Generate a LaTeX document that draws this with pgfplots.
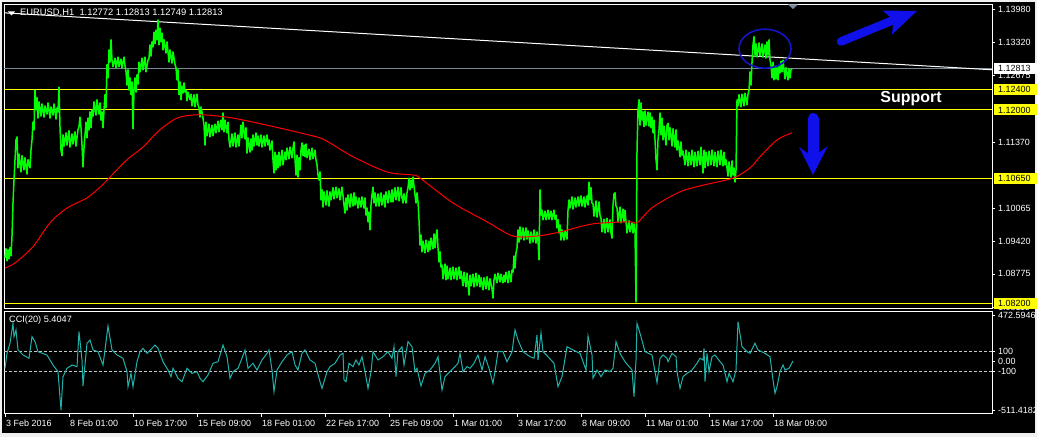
\documentclass[border=0pt]{standalone}
\usepackage{pgfplots}
\pgfplotsset{compat=1.18}
\usepackage{fontspec}
\setmainfont{Liberation Sans}
\definecolor{pricegreen}{RGB}{0,255,0}
\definecolor{ccicol}{RGB}{32,178,170}
\definecolor{slate}{RGB}{119,136,153}
\definecolor{mtyellow}{RGB}{255,255,0}
\definecolor{framegray}{RGB}{240,240,240}
\definecolor{arrowblue}{RGB}{16,16,235}
\definecolor{ellblue}{RGB}{20,20,200}
\definecolor{silverdash}{RGB}{200,200,200}
\newcommand{\tfont}{\fontsize{9}{10}\selectfont}
\begin{document}
\begin{tikzpicture}[x=1bp,y=1bp]
\fill[framegray] (0,0) rectangle (1037,437);
\fill[black] (2,4) rectangle (1035,435);
\path[use as bounding box] (0,0) rectangle (1037,437);
% ---------------- main price panel ----------------
\begin{axis}[
  at={(4bp,128bp)}, anchor=south west, scale only axis,
  width=988bp, height=304.7bp,
  xmin=4, xmax=992, ymin=1.08085, ymax=1.14078,
  axis line style={white, line width=1bp},
  xtick=\empty, scaled ticks=false,
  ytick={1.08115,1.08775,1.0942,1.10065,1.1137,1.12675,1.1332,1.1398},
  yticklabels={1.08115,1.08775,1.09420,1.10065,1.11370,1.12675,1.13320,1.13980},
  ytick pos=right, yticklabel pos=right,
  tick align=outside, major tick length=3bp,
  tick style={white, line width=0.8bp},
  yticklabel style={font=\tfont, text=white, anchor=west, inner sep=0pt, xshift=3bp},
]
\addplot[mtyellow, line width=1bp] coordinates {(4,1.124) (992,1.124)};
\addplot[mtyellow, line width=1bp] coordinates {(4,1.12) (992,1.12)};
\addplot[mtyellow, line width=1bp] coordinates {(4,1.1065) (992,1.1065)};
\addplot[mtyellow, line width=1bp] coordinates {(4,1.082) (992,1.082)};
\addplot[slate, line width=1bp] coordinates {(4,1.12813) (992,1.12813)};
\addplot[white, line width=1bp] coordinates {(4,1.1391) (992,1.1279)};
% price (H1 bars, traced high/low)
\addplot[pricegreen, line width=1.5bp, line join=round] coordinates {
(5,1.0909) (6,1.0927) (7,1.0903) (8,1.0925) (9,1.0907) (10,1.0929) (11,1.0913) (12,1.0952) (13,1.1017) (14,1.1062)
(15,1.1102) (16,1.1141) (17,1.1147) (18,1.1086) (19,1.1113) (21,1.1078) (22,1.1110) (24,1.1082) (25,1.1106) (27,1.1074)
(28,1.1102) (30,1.1086) (31,1.1121) (32,1.1141) (33,1.1176) (34,1.1161) (35,1.1239) (36,1.1200) (37,1.1224) (38,1.1184)
(39,1.1216) (41,1.1188) (42,1.1212) (44,1.1186) (45,1.1208) (47,1.1192) (48,1.1214) (50,1.1184) (51,1.1206) (53,1.1190)
(54,1.1212) (56,1.1182) (57,1.1204) (58,1.1196) (59,1.1245) (60,1.1167) (61,1.1121) (62,1.1110) (63,1.1151) (64,1.1129)
(66,1.1155) (67,1.1131) (69,1.1159) (70,1.1127) (72,1.1153) (73,1.1133) (75,1.1157) (76,1.1129) (78,1.1161) (79,1.1167)
(80,1.1186) (81,1.1165) (82,1.1131) (83,1.1088) (84,1.1125) (85,1.1151) (86,1.1176) (87,1.1145) (88,1.1184) (89,1.1161)
(90,1.1196) (91,1.1165) (92,1.1200) (93,1.1188) (94,1.1216) (96,1.1190) (97,1.1220) (99,1.1192) (100,1.1214) (101,1.1180)
(102,1.1196) (103,1.1165) (104,1.1200) (105,1.1230) (106,1.1204) (107,1.1289) (108,1.1263) (109,1.1318) (110,1.1294) (111,1.1338)
(112,1.1298) (113,1.1285) (115,1.1302) (116,1.1283) (118,1.1304) (119,1.1285) (121,1.1300) (122,1.1283) (124,1.1304) (125,1.1287)
(126,1.1275) (127,1.1249) (128,1.1279) (129,1.1239) (130,1.1263) (131,1.1230) (132,1.1255) (133,1.1163) (134,1.1239) (135,1.1263)
(136,1.1235) (137,1.1269) (138,1.1251) (139,1.1294) (140,1.1275) (142,1.1302) (143,1.1279) (145,1.1304) (146,1.1275) (148,1.1298)
(149,1.1302) (150,1.1328) (151,1.1306) (152,1.1334) (153,1.1324) (154,1.1353) (155,1.1330) (156,1.1357) (157,1.1338) (158,1.1377)
(159,1.1328) (160,1.1361) (161,1.1334) (162,1.1351) (163,1.1318) (164,1.1338) (166,1.1312) (167,1.1334) (168,1.1314) (169,1.1294)
(170,1.1318) (172,1.1292) (173,1.1314) (175,1.1290) (176,1.1283) (177,1.1259) (178,1.1279) (179,1.1230) (180,1.1255) (181,1.1220)
(182,1.1247) (183,1.1233) (184,1.1253) (185,1.1235) (186,1.1239) (187,1.1218) (188,1.1235) (190,1.1220) (191,1.1231) (192,1.1208)
(194,1.1230) (195,1.1206) (197,1.1231) (198,1.1210) (199,1.1204) (200,1.1186) (201,1.1206) (203,1.1184) (204,1.1170) (205,1.1131)
(206,1.1176) (207,1.1149) (209,1.1172) (210,1.1147) (212,1.1170) (213,1.1149) (215,1.1172) (216,1.1155) (218,1.1178) (219,1.1157)
(221,1.1180) (222,1.1161) (223,1.1194) (224,1.1157) (225,1.1180) (227,1.1155) (228,1.1176) (229,1.1141) (230,1.1127) (232,1.1153)
(233,1.1129) (235,1.1155) (236,1.1127) (238,1.1151) (239,1.1129) (241,1.1170) (242,1.1145) (243,1.1176) (245,1.1143) (246,1.1165)
(247,1.1115) (248,1.1145) (250,1.1117) (251,1.1143) (252,1.1121) (253,1.1151) (254,1.1129) (256,1.1155) (257,1.1131) (258,1.1149)
(259,1.1129) (261,1.1151) (262,1.1127) (264,1.1149) (265,1.1129) (267,1.1151) (268,1.1131) (269,1.1141) (270,1.1121) (272,1.1139)
(273,1.1102) (274,1.1076) (275,1.1117) (276,1.1082) (277,1.1111) (278,1.1086) (279,1.1117) (280,1.1090) (282,1.1121) (283,1.1092)
(285,1.1117) (286,1.1102) (287,1.1125) (289,1.1104) (290,1.1127) (292,1.1106) (293,1.1125) (294,1.1137) (295,1.1102) (296,1.1072)
(297,1.1111) (298,1.1068) (299,1.1106) (300,1.1082) (301,1.1121) (302,1.1135) (303,1.1110) (304,1.1131) (305,1.1108) (306,1.1133)
(307,1.1106) (309,1.1123) (310,1.1102) (312,1.1125) (313,1.1104) (315,1.1121) (316,1.1102) (317,1.1092) (318,1.1072) (319,1.1062)
(320,1.1078) (321,1.1023) (322,1.1043) (323,1.1009) (324,1.1039) (326,1.1013) (327,1.1041) (329,1.1011) (330,1.1039) (331,1.1023)
(333,1.1047) (334,1.1025) (336,1.1048) (337,1.1027) (339,1.1045) (340,1.1023) (342,1.1048) (343,1.1031) (344,1.1013) (345,1.0997)
(346,1.1027) (347,1.1003) (348,1.1033) (350,1.1009) (351,1.1035) (353,1.1011) (354,1.1037) (355,1.1013) (356,1.1029) (358,1.1007)
(359,1.1027) (361,1.1009) (362,1.1029) (364,1.1007) (365,1.1027) (366,1.0993) (367,1.1007) (368,1.0980) (369,1.0999) (370,1.0964)
(371,1.1013) (372,1.1033) (373,1.1048) (374,1.1017) (375,1.1037) (376,1.1011) (378,1.1035) (379,1.1011) (381,1.1037) (382,1.1013)
(384,1.1033) (385,1.1009) (386,1.1039) (388,1.1017) (389,1.1041) (391,1.1019) (392,1.1043) (393,1.1019) (395,1.1047) (396,1.1023)
(398,1.1048) (399,1.1021) (401,1.1047) (402,1.1027) (403,1.1017) (404,1.1035) (406,1.1017) (407,1.1037) (408,1.1047) (409,1.1066)
(410,1.1043) (411,1.1062) (412,1.1047) (413,1.1068) (414,1.1050) (415,1.1033) (416,1.1017) (417,1.1037) (418,1.1019) (419,1.0984)
(420,1.0934) (421,1.0954) (422,1.0921) (423,1.0942) (425,1.0919) (426,1.0944) (428,1.0921) (429,1.0942) (430,1.0925) (431,1.0948)
(433,1.0927) (434,1.0956) (435,1.0929) (436,1.0952) (437,1.0964) (438,1.0929) (439,1.0901) (440,1.0921) (441,1.0891) (442,1.0895)
(443,1.0868) (445,1.0897) (446,1.0866) (447,1.0893) (448,1.0868) (450,1.0889) (451,1.0866) (453,1.0891) (454,1.0868) (456,1.0889)
(457,1.0866) (459,1.0891) (460,1.0868) (461,1.0883) (463,1.0854) (464,1.0881) (466,1.0852) (467,1.0879) (469,1.0836) (470,1.0875)
(471,1.0854) (473,1.0877) (474,1.0852) (476,1.0879) (477,1.0854) (479,1.0875) (480,1.0852) (481,1.0870) (483,1.0846) (484,1.0870)
(486,1.0848) (487,1.0872) (489,1.0846) (490,1.0868) (492,1.0848) (493,1.0830) (494,1.0866) (495,1.0877) (497,1.0860) (498,1.0879)
(500,1.0862) (501,1.0877) (503,1.0860) (504,1.0875) (505,1.0862) (506,1.0881) (508,1.0860) (509,1.0883) (511,1.0862) (512,1.0885)
(513,1.0881) (514,1.0913) (515,1.0889) (516,1.0919) (517,1.0929) (518,1.0964) (519,1.0940) (520,1.0970) (521,1.0946) (523,1.0968)
(524,1.0944) (526,1.0968) (527,1.0946) (528,1.0962) (530,1.0938) (531,1.0960) (533,1.0940) (534,1.0964) (536,1.0938) (537,1.0960)
(538,1.0944) (539,1.0905) (540,1.1043) (541,1.0993) (542,1.1003) (543,1.0984) (545,1.1001) (546,1.0984) (548,1.1003) (549,1.0985)
(551,1.1001) (552,1.0984) (554,1.1003) (555,1.0985) (556,1.0993) (557,1.0968) (558,1.0984) (559,1.0958) (560,1.0974) (561,1.0944)
(562,1.0964) (564,1.0944) (565,1.0962) (567,1.0946) (568,1.1003) (569,1.1023) (570,1.1007) (572,1.1029) (573,1.1005) (575,1.1027)
(576,1.1009) (578,1.1029) (579,1.1011) (581,1.1031) (582,1.1011) (584,1.1029) (585,1.1009) (587,1.1031) (588,1.1013) (589,1.1058)
(590,1.1023) (591,1.1047) (592,1.1017) (593,1.1015) (594,1.0991) (596,1.1021) (597,1.0989) (599,1.1019) (600,1.0993) (601,1.0987)
(602,1.0960) (604,1.0985) (605,1.0958) (607,1.0987) (608,1.0960) (610,1.0984) (611,1.0958) (612,1.0948) (613,1.1013) (614,1.1035)
(615,1.1037) (616,1.1011) (617,1.1007) (618,1.0980) (620,1.1009) (621,1.0978) (623,1.1005) (624,1.0980) (625,1.1003) (626,1.0980)
(627,1.0958) (629,1.0982) (630,1.0960) (632,1.0978) (633,1.0958) (634,1.0976) (635,1.0960) (636,1.0822) (637,1.1121) (638,1.1200)
(639,1.1220) (640,1.1170) (641,1.1214) (642,1.1180) (643,1.1196) (644,1.1167) (645,1.1198) (646,1.1170) (648,1.1196) (649,1.1168)
(650,1.1194) (651,1.1165) (652,1.1186) (653,1.1155) (654,1.1180) (655,1.1141) (656,1.1102) (657,1.1082) (658,1.1141) (659,1.1161)
(660,1.1194) (661,1.1151) (662,1.1184) (663,1.1141) (664,1.1168) (666,1.1131) (667,1.1170) (668,1.1174) (669,1.1141) (670,1.1165)
(672,1.1129) (673,1.1163) (675,1.1127) (676,1.1161) (677,1.1121) (678,1.1139) (680,1.1108) (681,1.1137) (682,1.1111) (683,1.1119)
(685,1.1092) (686,1.1121) (688,1.1090) (689,1.1117) (691,1.1092) (692,1.1121) (694,1.1088) (695,1.1117) (697,1.1090) (698,1.1119)
(700,1.1092) (701,1.1127) (702,1.1102) (703,1.1076) (704,1.1121) (705,1.1086) (706,1.1117) (708,1.1090) (709,1.1119) (711,1.1092)
(712,1.1121) (714,1.1090) (715,1.1117) (717,1.1088) (718,1.1119) (720,1.1092) (721,1.1121) (723,1.1090) (724,1.1117) (725,1.1092)
(726,1.1102) (728,1.1070) (729,1.1098) (731,1.1068) (732,1.1100) (733,1.1072) (734,1.1086) (735,1.1058) (736,1.1082) (737,1.1220)
(738,1.1208) (739,1.1230) (741,1.1206) (742,1.1231) (744,1.1208) (745,1.1233) (747,1.1210) (748,1.1231) (749,1.1239) (750,1.1275)
(751,1.1249) (752,1.1294) (753,1.1328) (754,1.1344) (755,1.1308) (756,1.1330) (757,1.1304) (759,1.1332) (760,1.1306) (762,1.1330)
(763,1.1304) (765,1.1328) (766,1.1302) (767,1.1334) (768,1.1308) (769,1.1338) (770,1.1298) (771,1.1288) (772,1.1263) (773,1.1294)
(774,1.1259) (775,1.1286) (776,1.1261) (777,1.1283) (778,1.1259) (779,1.1285) (780,1.1273) (781,1.1296) (782,1.1275) (783,1.1298)
(784,1.1279) (785,1.1261) (786,1.1283) (788,1.1259) (789,1.1281) (790,1.1263) (791,1.1279) (792,1.1281)
};
% moving average
\addplot[red, line width=1bp, smooth] coordinates {
(5,1.0889) (15,1.0899) (33,1.0931) (50,1.0978) (67,1.1007) (87,1.1027) (100,1.1048) (110,1.1068) (127,1.1102) (143,1.1127)
(160,1.1161) (177,1.1184) (193,1.1190) (207,1.1190) (233,1.1184) (267,1.1170) (300,1.1155) (320,1.1145) (330,1.1135) (353,1.1108)
(387,1.1078) (413,1.1072) (420,1.1066) (453,1.1017) (487,1.0980) (513,1.0952) (537,1.0952) (560,1.0960) (593,1.0976) (630,1.0980)
(637,1.0978) (653,1.1009) (680,1.1039) (703,1.1052) (733,1.1066) (750,1.1086) (760,1.1108) (777,1.1141) (792,1.1155)
};
\coordinate (L1) at (axis cs:992,1.124);
\coordinate (L2) at (axis cs:992,1.12);
\coordinate (L3) at (axis cs:992,1.1065);
\coordinate (L4) at (axis cs:992,1.082);
\coordinate (L5) at (axis cs:992,1.12813);
\end{axis}
% ---------------- CCI panel ----------------
\begin{axis}[
  at={(4bp,23bp)}, anchor=south west, scale only axis,
  width=988bp, height=102bp,
  xmin=4, xmax=992, ymin=-545.4, ymax=511.3,
  axis line style={white, line width=1bp},
  scaled ticks=false,
  xtick={5,69,133,197,261,325,389,453,517,581,645,709,773},
  xticklabels={3 Feb 2016,8 Feb 01:00,10 Feb 17:00,15 Feb 09:00,18 Feb 01:00,22 Feb 17:00,25 Feb 09:00,1 Mar 01:00,3 Mar 17:00,8 Mar 09:00,11 Mar 01:00,15 Mar 17:00,18 Mar 09:00},
  xtick pos=bottom,
  ytick={-511.4182,-100,0,100,472.5946},
  yticklabels={-511.4182,-100,0.00,100,472.5946},
  ytick pos=right, yticklabel pos=right,
  tick align=outside, major tick length=3bp,
  tick style={white, line width=0.8bp},
  yticklabel style={font=\tfont, text=white, anchor=west, inner sep=0pt, xshift=3bp},
  xticklabel style={font=\tfont, text=white, anchor=north west, inner sep=0pt, xshift=1bp, yshift=-3bp},
]
\addplot[silverdash, line width=0.8bp, dash pattern=on 3bp off 2bp] coordinates {(4,100) (992,100)};
\addplot[silverdash, line width=0.8bp, dash pattern=on 3bp off 2bp] coordinates {(4,-100) (992,-100)};
\addplot[ccicol, line width=1bp] coordinates {
(5,-72) (7,83) (10,187) (13,394) (14,255) (16,325) (18,118) (23,66) (29,32) (32,255)
(35,204) (38,100) (47,66) (53,-38) (58,-107) (61,-504) (63,-159) (67,-72) (72,-38) (77,-55)
(79,307) (82,14) (83,-255) (87,187) (90,221) (93,118) (98,100) (103,-38) (105,118) (108,366)
(112,118) (117,66) (123,32) (127,-107) (128,-262) (131,-124) (133,-262) (137,-4) (140,100) (143,135)
(147,83) (152,135) (155,169) (158,135) (163,-4) (168,-90) (171,-159) (173,-72) (178,-176) (182,-211)
(187,-72) (192,-124) (197,-107) (200,-176) (203,-211) (208,-141) (213,-20) (218,-4) (223,169) (227,48)
(230,-176) (233,-107) (238,-72) (242,32) (245,118) (248,-72) (253,-20) (257,-90) (262,14) (267,83)
(269,118) (272,-90) (274,-314) (277,-90) (282,-4) (287,66) (292,100) (295,-38) (298,-90) (302,83)
(305,118) (310,14) (315,-20) (320,-211) (322,-280) (327,-107) (330,-55) (335,-20) (340,66) (343,83)
(344,-193) (346,-211) (349,-20) (353,-55) (356,14) (359,-38) (362,48) (365,-107) (368,-280) (371,-107)
(373,100) (378,14) (383,48) (388,100) (392,32) (394,152) (396,-159) (398,100) (402,152) (404,-38)
(408,204) (412,152) (415,-107) (417,-72) (421,-255) (425,-124) (430,-90) (435,-20) (438,48) (442,-297)
(445,-159) (450,-107) (455,-55) (458,-20) (460,83) (463,-107) (467,-55) (470,-72) (474,-20) (478,66)
(482,-90) (485,48) (489,-72) (493,-228) (496,-38) (498,100) (503,100) (507,-4) (512,100) (515,325)
(518,221) (523,100) (530,48) (534,32) (537,273) (538,14) (541,297) (543,100) (548,48) (554,-20)
(558,-262) (562,-159) (567,152) (573,118) (580,83) (586,-90) (588,263) (592,66) (593,-176) (597,-90)
(601,-159) (605,-90) (610,-107) (613,-72) (616,204) (620,83) (625,-4) (632,-90) (634,-366) (636,14)
(637,394) (641,255) (645,100) (652,66) (657,-221) (660,32) (663,66) (667,32) (668,-4) (672,83)
(676,48) (677,-107) (680,-280) (683,-159) (687,-124) (692,-90) (697,-20) (700,32) (703,14) (704,135)
(705,-211) (707,83) (709,-107) (712,48) (715,66) (720,-4) (723,-38) (727,-211) (729,-124) (733,-211)
(736,-90) (738,411) (742,152) (747,100) (750,83) (755,187) (758,118) (765,83) (770,48) (773,-193)
(775,-331) (777,-262) (780,-107) (783,-38) (785,-90) (789,-72) (793,5)
};
\end{axis}
% ---------------- price labels on the scale ----------------
\foreach \c/\t in {L1/1.12400, L2/1.12000, L3/1.10650, L4/1.08200} {
  \fill[mtyellow] ([xshift=1.5bp,yshift=-5.5bp]\c) rectangle ([xshift=46bp,yshift=5.5bp]\c);
  \node[anchor=west, inner sep=0pt, text=black, font=\tfont] at ([xshift=6bp]\c) {\t};
}
\fill[white] ([xshift=1.5bp,yshift=-5.5bp]L5) rectangle ([xshift=46bp,yshift=5.5bp]L5);
\node[anchor=west, inner sep=0pt, text=black, font=\tfont] at ([xshift=6bp]L5) {1.12813};
% ---------------- texts ----------------
\fill[white] (8,425.5) -- (15,425.5) -- (11.5,421.5) -- cycle;
\node[anchor=west, inner sep=0pt, text=white, font=\fontsize{9.4}{10}\selectfont] at (20,424.5) {EURUSD,H1\ \ 1.12772 1.12813 1.12749 1.12813};
\node[anchor=west, inner sep=0pt, text=white, font=\fontsize{9.2}{10}\selectfont] at (9,116.5) {CCI(20) 5.4047};
\fill[slate] (788,432.5) -- (798,432.5) -- (793,428) -- cycle;
\node[text=white, font=\fontsize{16}{18}\selectfont\bfseries, inner sep=0pt] at (911,338) {Support};
% ---------------- annotations ----------------
\draw[ellblue, line width=1.6bp] (765,388.3) ellipse [x radius=26, y radius=19.5];
\draw[arrowblue, line width=8.5bp, line cap=round] (841,395.5) -- (895,417.5);
\fill[arrowblue] (917,426) -- (882.5,426.5) -- (893.7,417) -- (891.9,402.3) -- cycle;
\draw[arrowblue, line width=11bp, line cap=round] (813,318.5) -- (813,282);
\fill[arrowblue] (813,262) -- (799,290) -- (813,280) -- (828,291) -- cycle;
\end{tikzpicture}
\end{document}
